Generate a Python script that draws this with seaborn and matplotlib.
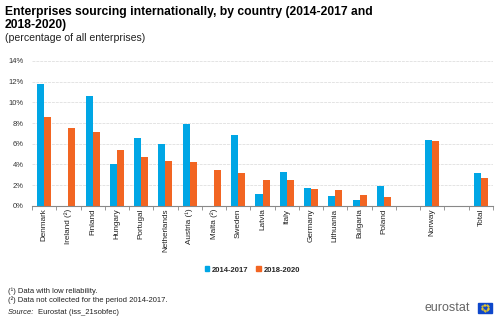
import numpy as np
import pandas as pd
import matplotlib
matplotlib.use("Agg")
import matplotlib.pyplot as plt
import seaborn as sns
from matplotlib.patches import Rectangle

categories = ["Denmark", "Ireland (²)", "Finland", "Hungary", "Portugal", "Netherlands",
              "Austria (¹)", "Malta (²)", "Sweden", "Latvia", "Italy", "Germany",
              "Lithuania", "Bulgaria", "Poland", " ", "Norway", "  ", "Total"]
s2014 = [11.8, np.nan, 10.6, 4.0, 6.6, 6.0, 7.95, np.nan, 6.8, 1.1, 3.3, 1.7,
         0.9, 0.6, 1.9, np.nan, 6.4, np.nan, 3.2]
s2018 = [8.6, 7.5, 7.1, 5.4, 4.7, 4.3, 4.2, 3.5, 3.15, 2.5, 2.5, 1.6,
         1.55, 1.0, 0.85, np.nan, 6.25, np.nan, 2.7]
series_names = ["2014-2017", "2018-2020"]
colors = ["#00A6E5", "#F26522"]

df = pd.DataFrame({"country": categories * 2,
                   "period": [series_names[0]] * len(categories) + [series_names[1]] * len(categories),
                   "value": s2014 + s2018})

sns.set_theme(style="white")
plt.rcParams['font.family'] = ['Liberation Sans', 'DejaVu Sans']

fig = plt.figure(figsize=(5.0, 3.21), dpi=100)
ax = fig.add_axes([0.064, 0.359, 0.922, 0.451])

sns.barplot(data=df, x="country", y="value", hue="period", order=categories,
            hue_order=series_names, palette=colors, width=0.58, saturation=1,
            ax=ax, legend=False, errorbar=None, linewidth=0, edgecolor="none")

ax.set_ylim(0, 14)
ax.set_xlim(-0.5, len(categories) - 0.5)
ax.set_yticks(np.arange(0, 15, 2))
ax.set_yticklabels([f"{v}%" for v in range(0, 15, 2)], fontsize=5.5, color="#333333")
ax.yaxis.grid(True, color="#E4E4E4", linewidth=0.7, linestyle=(0, (3, 1)))
ax.set_axisbelow(True)
for s in ["top", "right", "left"]:
    ax.spines[s].set_visible(False)
ax.spines["bottom"].set_color("#888888")
ax.spines["bottom"].set_linewidth(0.8)
ax.set_xlabel("")
ax.set_ylabel("")
ax.tick_params(axis="y", length=0, pad=6)
ax.set_xticks(np.arange(-0.5, len(categories), 1), minor=True)
ax.tick_params(axis="x", which="minor", length=3, color="#888888", width=0.6, bottom=True)
ax.tick_params(axis="x", which="major", length=0, pad=2)
ax.set_xticklabels(categories, rotation=90, fontsize=5.9, color="#222222")

# Titles
fig.text(0.01, 0.953, "Enterprises sourcing internationally, by country (2014-2017 and",
         fontsize=8.7, fontweight="bold", va="baseline", ha="left", color="#000000")
fig.text(0.01, 0.912, "2018-2020)",
         fontsize=8.7, fontweight="bold", va="baseline", ha="left", color="#000000")
fig.text(0.01, 0.871, "(percentage of all enterprises)", fontsize=7.6, va="baseline", ha="left", color="#222222")

# Legend
handles = [Rectangle((0, 0), 1, 1, color=c) for c in colors]
fig.legend(handles, series_names, loc="center", bbox_to_anchor=(0.505, 0.159), ncol=2,
           frameon=False, prop={"weight": "bold", "size": 5.5},
           handlelength=0.6, handleheight=0.6, handletextpad=0.4, columnspacing=1.0)

# Footnotes
fig.text(0.016, 0.093, "(¹) Data with low reliability.", fontsize=5.5, va="center", color="#222222")
fig.text(0.016, 0.065, "(²) Data not collected for the period 2014-2017.", fontsize=5.5, va="center", color="#222222")
fig.text(0.016, 0.028, "Source:", fontsize=5.5, va="center", style="italic", color="#222222")
fig.text(0.077, 0.028, "Eurostat (iss_21sobfec)", fontsize=5.5, va="center", color="#222222")

# eurostat logo
fig.text(0.849, 0.04, "eurostat", fontsize=9.0, va="center", ha="left", color="#666666")
flag = Rectangle((0.956, 0.026), 0.028, 0.03, transform=fig.transFigure, color="#0E47CB")
fig.patches.append(flag)
th = np.linspace(0, 2 * np.pi, 12, endpoint=False)
fig.lines.append(plt.Line2D(0.970 + 0.006 * np.cos(th), 0.041 + 0.0095 * np.sin(th),
                            transform=fig.transFigure, linestyle="none", marker="o",
                            markersize=0.5, color="#FFD617"))

fig.savefig("out.png", dpi=100)
